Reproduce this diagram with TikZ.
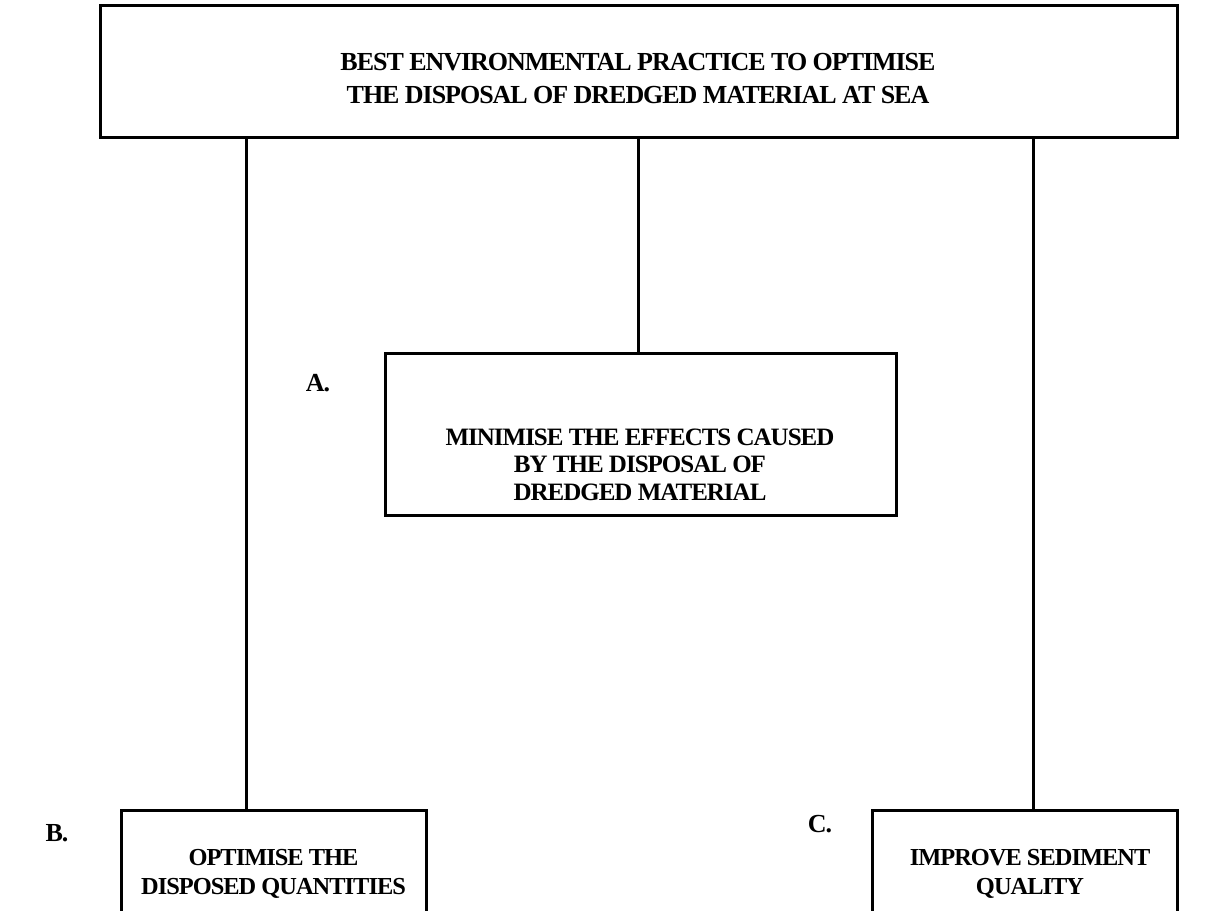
\documentclass[tikz,border=0pt]{standalone}
\usepackage{fontspec}
\setmainfont[LetterSpace=-4]{Liberation Serif}
\usepackage{tikz}
\usetikzlibrary{positioning}

\begin{document}
\begin{tikzpicture}[x=0.5pt,y=-0.5pt,
  box/.style={draw,line width=1.5pt,inner sep=0pt},
  boxtext/.style={font=\fontsize{13}{14.5}\selectfont\bfseries,align=center,inner sep=0pt},
  small/.style={font=\fontsize{12.2}{14.5}\selectfont\bfseries},
  tag/.style={font=\fontsize{13}{14.5}\selectfont\bfseries,inner sep=0pt},
  link/.style={line width=1.5pt}]
\useasboundingbox (0,0) rectangle (1209,910);
\clip (0,0) rectangle (1209,910);
\node[box,minimum width=538.5pt,minimum height=66pt] (goal) at (638.5,71) {};
\node[boxtext] (goaltext) at (638,78.5) {BEST ENVIRONMENTAL PRACTICE TO OPTIMISE\\[2pt]THE DISPOSAL OF DREDGED MATERIAL AT SEA};
\node[box,minimum width=255.5pt,minimum height=81pt] (minim) at (640.5,434) {};
\node[boxtext,font=\fontsize{12.5}{13.8}\selectfont\bfseries] (minimtext) at (640,464.5) {MINIMISE THE EFFECTS CAUSED\\BY THE DISPOSAL OF\\DREDGED MATERIAL};
\node[box,minimum width=152.5pt,minimum height=70pt] (optim) at (273.5,880) {};
\node[boxtext,small] (optimtext) at (273.5,874) {OPTIMISE THE\\DISPOSED QUANTITIES};
\node[box,minimum width=152.5pt,minimum height=70pt] (improve) at (1024.5,880) {};
\node[boxtext,small] (improvetext) at (1030,874) {IMPROVE SEDIMENT\\QUALITY};
\node[tag] (taga) at (318,383) {A.};
\node[tag] (tagb) at (57,833) {B.};
\node[tag] (tagc) at (820,824) {C.};
\foreach \x/\n in {246/optim,638/minim,1033/improve} {
  \draw[link] (goal.south -| \x,0) -- (\n.north -| \x,0);
}
\end{tikzpicture}
\end{document}
